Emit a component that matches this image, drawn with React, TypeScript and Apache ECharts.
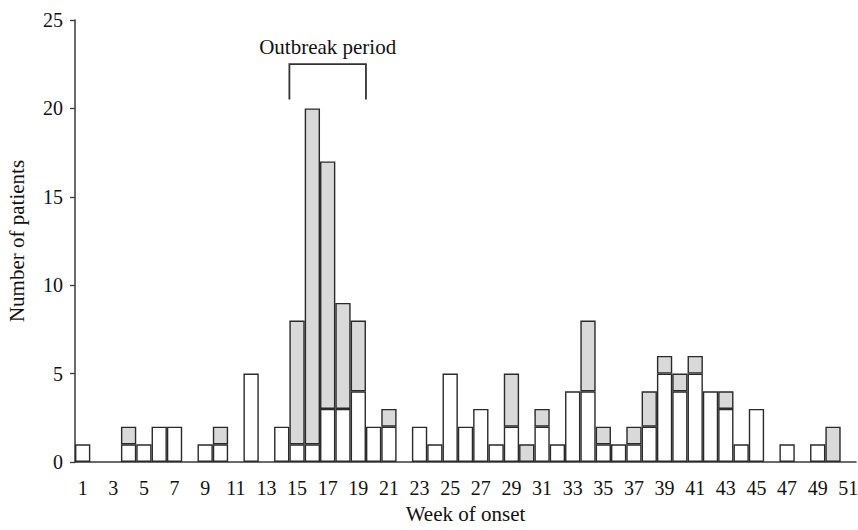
import React, { useEffect, useRef } from "react";
import * as echarts from "echarts";

const weeks = [
  "1", "2", "3", "4", "5", "6", "7", "8", "9", "10",
  "11", "12", "13", "14", "15", "16", "17", "18", "19", "20",
  "21", "22", "23", "24", "25", "26", "27", "28", "29", "30",
  "31", "32", "33", "34", "35", "36", "37", "38", "39", "40",
  "41", "42", "43", "44", "45", "46", "47", "48", "49", "50", "51",
];

// white (lower) part of each bar
const whiteCounts = [
  1, 0, 0, 1, 1, 2, 2, 0, 1, 1,
  0, 5, 0, 2, 1, 1, 3, 3, 4, 2,
  2, 0, 2, 1, 5, 2, 3, 1, 2, 0,
  2, 1, 4, 4, 1, 1, 1, 2, 5, 4,
  5, 4, 3, 1, 3, 0, 1, 0, 1, 0, 0,
];

// grey (upper) part of each bar
const greyCounts = [
  0, 0, 0, 1, 0, 0, 0, 0, 0, 1,
  0, 0, 0, 0, 7, 19, 14, 6, 4, 0,
  1, 0, 0, 0, 0, 0, 0, 0, 3, 1,
  1, 0, 0, 4, 1, 0, 1, 2, 1, 1,
  1, 0, 1, 0, 0, 0, 0, 0, 0, 2, 0,
];

const yTicks = { min: 0, max: 25, interval: 5 };
const outbreakStartWeek = 15;
const outbreakEndWeek = 19;
const outbreakLabel = "Outbreak period";
const bracketTop = 22.5;
const bracketBottom = 20.5;

const FONT = "'Liberation Serif', 'Times New Roman', serif";

export default function App() {
  const ref = useRef<HTMLDivElement>(null);
  useEffect(() => {
    if (!ref.current) return;
    const chart = echarts.init(ref.current, undefined, { renderer: "svg" });
    const barBorder = { borderColor: "#2a2a2a", borderWidth: 1.4 };
    chart.setOption({
      animation: false,
      backgroundColor: "#ffffff",
      textStyle: { fontFamily: FONT },
      grid: {
        left: 75,
        right: 2,
        top: 20,
        bottom: 68,
        containLabel: false,
        outerBoundsMode: "none",
      },
      xAxis: {
        type: "category",
        data: weeks,
        boundaryGap: true,
        name: "Week of onset",
        nameLocation: "middle",
        nameGap: 41,
        nameTextStyle: { fontFamily: FONT, fontSize: 21, color: "#111" },
        axisLine: { lineStyle: { color: "#3a3a3a", width: 1.5 } },
        axisTick: { interval: 0, length: 6, lineStyle: { color: "#3a3a3a", width: 1.3 } },
        axisLabel: { interval: 1, margin: 16, fontFamily: FONT, fontSize: 20, color: "#111" },
        splitLine: { show: false },
      },
      yAxis: {
        type: "value",
        min: yTicks.min,
        max: yTicks.max,
        interval: yTicks.interval,
        name: "Number of patients",
        nameLocation: "middle",
        nameGap: 48,
        nameTextStyle: { fontFamily: FONT, fontSize: 21, color: "#111" },
        axisLine: { show: true, lineStyle: { color: "#3a3a3a", width: 1.5 } },
        axisTick: { show: true, length: 5, lineStyle: { color: "#3a3a3a", width: 1.3 } },
        axisLabel: { margin: 12, fontFamily: FONT, fontSize: 20, color: "#111" },
        splitLine: { show: false },
      },
      series: [
        {
          type: "bar",
          stack: "total",
          data: whiteCounts.map((v) => (v === 0 ? null : v)),
          barCategoryGap: "0%",
          barGap: "0%",
          itemStyle: { color: "#ffffff", ...barBorder },
        },
        {
          type: "bar",
          stack: "total",
          data: greyCounts.map((v) => (v === 0 ? null : v)),
          barCategoryGap: "0%",
          barGap: "0%",
          itemStyle: { color: "#d9d9d9", ...barBorder },
        },
        {
          type: "custom",
          data: [[outbreakStartWeek - 1, outbreakEndWeek - 1, bracketTop, bracketBottom]],
          silent: true,
          z: 10,
          renderItem: (params: any, api: any) => {
            const s = api.value(0);
            const e = api.value(1);
            const bw = api.size([1, 0])[0];
            const pS = api.coord([s, api.value(2)]);
            const pE = api.coord([e, api.value(2)]);
            const pB = api.coord([s, api.value(3)]);
            const x1 = pS[0] - bw / 2;
            const x2 = pE[0] + bw / 2;
            const yt = pS[1];
            const yb = pB[1];
            return {
              type: "group",
              children: [
                {
                  type: "polyline",
                  shape: { points: [[x1, yb], [x1, yt], [x2, yt], [x2, yb]] },
                  style: { stroke: "#333", lineWidth: 1.8, fill: null },
                },
                {
                  type: "text",
                  style: {
                    x: (x1 + x2) / 2,
                    y: yt - 17,
                    text: outbreakLabel,
                    align: "center",
                    verticalAlign: "middle",
                    fontFamily: FONT,
                    fontSize: 21,
                    fill: "#111",
                  },
                },
              ],
            };
          },
        },
      ],
    });
    return () => chart.dispose();
  }, []);
  return (
    <div
      ref={ref}
      style={{ position: "fixed", left: 0, top: 0, width: 858, height: 530 }}
    />
  );
}
